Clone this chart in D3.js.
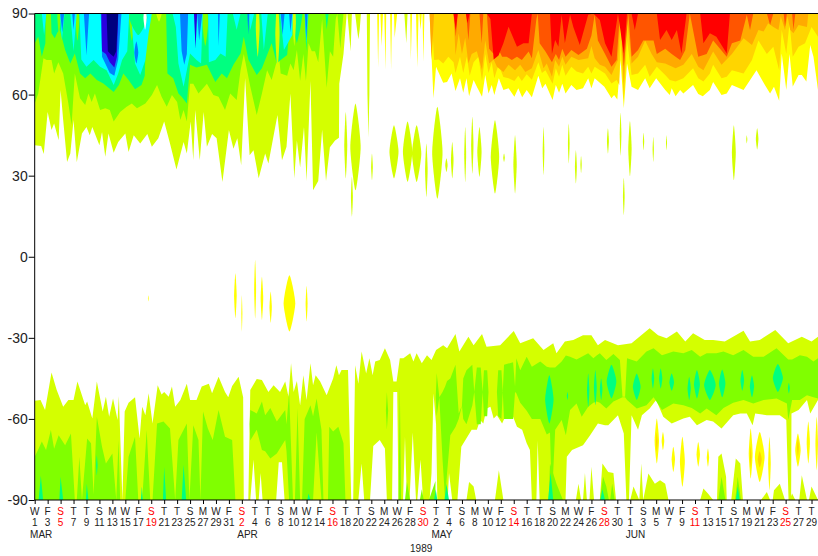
<!DOCTYPE html>
<html><head><meta charset="utf-8">
<script src="https://cdn.jsdelivr.net/npm/d3@7"></script>
<style>html,body{margin:0;padding:0;background:#fff;overflow:hidden}svg{display:block}text{font-family:"Liberation Sans",Arial,sans-serif;fill:#222}</style>
</head><body><svg id="c" width="818" height="556"></svg>
<script>
// All pairs are [day since 1 March 1989, latitude].
const northLime=[[0,41.3],[1,41],[1.4,38],[2,53.6],[2.6,46.9],[3,49.3],[3.7,43.1],[4,61.7],[4.4,50.6],[5,35.1],[5.5,38.2],[6,50.6],[6.5,35],[7.3,45.6],[8,48],[8.5,45],[8.9,48],[10,41.3],[10.4,46.2],[10.9,37],[11.4,45.6],[12.2,38.5],[12.9,42.5],[14,45.6],[14.5,38.8],[15.3,45],[16.3,41.9],[17.4,45.4],[18.1,40.7],[19.1,43.8],[20,50],[20.9,41.9],[21.9,32.3],[23,42.5],[23.5,38.2],[24.1,50],[24.5,35.7],[24.8,54.3],[25.5,35.7],[26.1,53.6],[26.6,40.7],[27.4,45.4],[28.1,43.8],[29,27.7],[30,46.9],[30.7,40],[31.3,43.8],[31.9,33.9],[32.5,66],[33.2,37.6],[33.8,39.4],[34.6,29],[35.6,38.2],[36.1,34.5],[37.5,52.4],[38.2,35.7],[38.9,40.7],[39.5,60.4],[40.1,29],[40.5,43],[41,33],[41.6,48],[42,28],[42.6,65],[43,24.6],[43.8,28],[44.4,47],[45,28],[45.6,40.5],[46.4,43],[47,44],[47.05,64],[47.7,75],[48.2,90],[48.3,90],[48.8,76],[49,90],[49.5,90],[49.8,84],[50,80.5],[50.2,84],[50.4,90],[51.3,90],[51.4,60],[51.55,44],[51.7,60],[51.8,90],[57.1,90],[57.4,79],[57.6,90],[121,90]];
const northGreen=[[0,56.7],[0.55,60.4],[1.35,73.4],[1.85,72.8],[2.6,72.8],[3,67.8],[3.65,72],[4.4,67.8],[5.2,56.7],[5.7,48.7],[6.2,67.8],[7,58.6],[7.8,56.1],[8.3,60.4],[8.8,57.3],[9.3,60.4],[10.1,54.3],[10.9,54.9],[11.6,54.3],[12.2,50],[13.2,53.6],[14.2,55.5],[15,56.7],[15.8,54.9],[17.1,56.7],[18.1,59.8],[18.9,63.5],[19.6,59.2],[20.4,55.5],[21.2,59.8],[22,57.3],[22.5,50.6],[23,54.3],[23.5,50],[24,64],[24.5,64],[25.3,60.4],[26.6,64],[27.6,59.8],[28.4,59.2],[29.4,54.3],[30.2,60.4],[31.2,58],[31.8,69],[32.3,75],[33.3,63],[34.3,52.4],[35.1,60.4],[35.9,69],[36.6,65.4],[37.7,75],[38,67.8],[39,67],[39.5,71.5],[40,69],[40.5,76.5],[41,65],[41.5,75],[41.9,65],[42.3,79],[42.8,76],[43.3,76],[43.8,72],[44.4,88],[45.1,62.5],[45.6,76],[46.1,74],[46.5,88],[46.75,90],[47.2,77],[47.7,90],[121,90]];
const northSpring=[[0,79],[0.55,81.4],[1.1,74],[1.65,79],[1.7,90],[2.5,90],[2.6,82.7],[3.1,80.8],[3.5,83],[3.9,83.9],[4.7,76.5],[5.5,71.5],[6.2,75.2],[7,67.8],[7.8,66],[8.6,67.8],[9.6,65.4],[10.6,64.1],[12.2,61],[13,63.5],[13.7,67.8],[14.5,65.4],[15.5,62],[16.5,63.5],[17,67],[17.3,90],[20.3,90],[20.5,67.8],[21.4,66],[22.2,60.4],[22.7,59.2],[23.5,56.7],[24,71],[25,70],[26.6,71],[27.9,64.7],[28.9,67.8],[29.7,66],[30.7,71],[31.8,75.2],[32.3,81.4],[33,73],[33.6,70.3],[34.3,67.2],[35.1,69.7],[35.9,74.6],[36.6,79],[37.4,71.5],[38,72.8],[39,74.6],[39.5,88.8],[40.5,79],[41,84],[41.4,90],[41.7,90],[41.95,76],[42.3,90],[44.9,90],[45.1,84],[45.4,90],[121,90]];
const northCyan=[[0,90],[1.1,90],[1.45,82],[1.8,90],[3.9,90],[4.2,80],[4.6,90],[5.5,90],[6,76],[6.5,90],[6.9,90],[7.2,73],[8,70.3],[9.1,72.8],[10.1,70.3],[11.1,69],[12.2,63.5],[12.9,67.8],[13.5,72.8],[14.3,76],[14.6,90],[14.9,90],[15.2,80],[15.5,71.5],[16.3,67.2],[17.1,72.8],[17.6,82.7],[18.1,90],[21.3,90],[21.8,85],[22.2,71.5],[23,62.9],[23.5,69],[24,75.2],[25,72.8],[25.7,71.5],[25.95,90],[26.8,90],[26.9,72],[27.9,72.8],[28.7,75.2],[29.5,74],[29.8,90],[30.6,90],[31.2,84],[31.8,90],[33.1,90],[33.3,83.9],[33.9,90],[35,90],[35.4,76.5],[36,90],[37.9,90],[38.5,76.5],[39.8,82],[39.9,90],[41.7,90],[41.95,79],[42.2,90],[121,90]];
const northAzure=[[0,90],[3.95,90],[4.25,83],[4.55,90],[5.8,90],[6,84],[6.2,90],[7.6,90],[8,74.5],[8.4,90],[10.2,90],[10.4,74],[10.9,71.5],[11.6,68],[12.3,67],[12.9,73],[13.4,90],[22.45,90],[22.7,76],[23.1,71],[23.5,75],[23.7,90],[25.1,90],[25.4,80],[25.9,90],[28.3,90],[28.4,78],[28.6,90],[32.85,90],[33,82],[33.15,90],[38,90],[38.3,82],[38.6,90],[39.3,90],[39.5,83],[39.8,90],[41.75,90],[41.95,80],[42.15,90],[121,90]];
const northIndigo=[[0,90],[10.3,90],[10.4,76],[11,75],[11.6,72],[12.3,70],[12.7,74],[12.9,90],[24.6,90],[24.85,77],[25.1,90],[121,90]];
const northNavy=[[0,90],[11.1,90],[11.3,76],[11.7,75],[12.2,74],[12.6,76],[12.9,90],[121,90]];
const northYellow=[[0,90],[52.9,90],[53.05,70],[53.2,90],[53.4,90],[53.6,78],[53.8,90],[54,90],[54.2,69],[54.3,90],[54.9,90],[55.05,69],[55.2,90],[55.5,90],[55.6,81],[56,90],[58,90],[58.1,73],[58.3,90],[58.9,90],[59.1,70],[59.3,90],[59.4,90],[59.6,84],[59.8,90],[59.9,90],[60.05,72],[60.2,90],[61,90],[61.6,58.6],[62,70.3],[63.1,64.4],[63.7,64.7],[64.4,67.8],[65,61.3],[65.7,66],[66.2,60.7],[66.7,66],[67.1,59.4],[67.8,65.4],[68.3,62.9],[69.1,59.2],[69.6,67.2],[70.1,60.4],[70.6,63.5],[71,59.8],[71.7,66],[72.4,61.7],[73.2,62.3],[74.1,59.2],[74.7,62.3],[75.3,59],[76,61.7],[76.8,59],[77.8,67],[78.4,62.3],[78.9,64],[80,58],[80.5,63.5],[81,60.7],[81.5,64],[82,60.4],[82.9,63.5],[83.7,61.7],[84.7,62.3],[85.5,66],[86,62.3],[86.5,66],[88,62.9],[89.1,58.6],[89.5,59.8],[90,58.2],[90.5,72.8],[91,54.9],[91.5,71.5],[92.2,62.9],[93.2,61.7],[94.3,66],[95,62.3],[96,66],[97.4,61.7],[98.1,59.8],[98.4,62.3],[99,59.4],[99.7,61.7],[100.2,60.4],[101.7,63.5],[102.5,60.2],[103.2,59.4],[104.3,61.7],[104.8,64.7],[106.1,59.8],[106.9,60.4],[107.7,63.5],[109.5,61.7],[111.5,69],[112.2,66],[112.8,63.5],[113.6,60.4],[114.2,62.9],[115,57.7],[115.4,75.2],[116.1,61.7],[116.6,75],[117.1,63],[118,67.2],[118.5,67.2],[119.2,64.8],[119.8,78.3],[120.3,74],[121,61.7]];
const northGold=[[0,90],[61.3,90],[61.7,72.8],[62.4,73],[63.1,71.5],[63.9,74],[64.7,72],[65,68],[65.7,74],[66.2,68],[66.75,74],[67.2,67],[67.8,72],[68.55,74],[69.1,65],[69.6,75],[70.1,68],[70.6,72],[71,66],[71.65,71],[72.4,66.5],[73.2,66],[74.1,65],[74.7,67],[75.25,65],[76,67.5],[76.8,65.5],[77.8,72],[78.35,68],[78.9,69],[80,64],[80.5,69.7],[81,66.6],[81.5,71],[82,67],[82.9,70.3],[83.7,68.5],[84.7,67.8],[85.5,70.3],[86,67.8],[86.5,70.3],[88.1,67.8],[89.1,64.1],[89.9,65.4],[90.3,63.5],[90.5,80],[91,58],[91.5,80],[92.2,67.2],[93.2,67.8],[94.3,71],[95,66.6],[96.1,70.3],[97.4,67.2],[98.1,65.4],[99,64.8],[100.2,66],[101.7,69.7],[102.5,66],[103.3,64.8],[104.3,67.8],[104.8,71],[106.1,66],[106.9,66.6],[107.7,69],[109.5,67.8],[110.8,72.8],[111.8,80],[113.1,75],[114.1,77.7],[115,69],[115.4,84],[116.1,75],[116.6,86.4],[117.1,74],[118,77.7],[119,79],[120,85],[121,81.4]];
const northOrange=[[0,90],[61,90],[61.3,72.8],[61.7,90],[64.7,90],[65,74.6],[65.5,82.6],[66,75],[66.5,81],[67,71.5],[67.5,75],[68.3,76],[69.1,69],[69.6,80],[70.2,71.5],[70.9,73],[71.4,70.3],[72.4,68.4],[73.2,71],[74.2,69],[75,71],[75.8,68.4],[76.8,69.7],[77.8,76.5],[78.6,69.7],[79.1,71.5],[79.9,66.6],[80.4,72.8],[81,70.3],[81.5,74],[82,71],[82.9,74],[84,72.8],[85.5,73.4],[86,78],[86.5,73.4],[87.3,71],[88.1,70.3],[89.1,67.2],[90.1,72.8],[90.5,88.8],[91,64],[91.5,88.8],[92.2,71.5],[93.2,74],[94.3,80],[95.3,75],[96.1,72],[97.4,71.5],[99,69.7],[100.2,71],[101.5,75],[102.5,70.3],[103.3,69],[104.8,75.9],[106.1,71],[107.7,75],[109.5,80.8],[110.8,78.3],[111.8,83.9],[112.6,83.3],[113.3,86.4],[114.1,85],[114.9,83.9],[115.25,89],[115.9,83.9],[116.3,89],[116.7,84],[117.2,82.7],[118,85.7],[119.3,85],[119.5,90],[121,90]];
const northDeep=[[0,90],[64.7,90],[65.05,81.4],[65.35,90],[66.65,90],[67,80],[67.3,90],[68.7,90],[69.05,79],[69.3,90],[69.85,90],[70.2,77],[70.9,75],[71.4,78],[72.2,74],[72.9,74],[73.7,72.8],[74.5,74],[75.25,72.8],[76.3,75.9],[76.8,73.4],[77.5,88],[77.7,90],[78,79],[78.9,75.9],[79.9,72],[80.5,75],[81,72.8],[81.5,77],[82,74],[82.9,76.5],[84,74.6],[85.3,77],[86,81.9],[86.5,89.5],[87,80],[88.1,75],[89.1,70.3],[89.9,72.8],[90.4,90],[91,70.3],[91.7,90],[92.2,74],[93.2,76.5],[94,80],[95.6,80],[96.1,75],[97.4,77],[98.4,75],[99.7,72.8],[100.5,76.5],[101.2,90],[102.5,74],[103.8,75],[104.8,80],[106.9,74],[107.7,79],[109,80],[110,89.5],[110.5,83.9],[111,90],[113.1,90],[113.6,85.7],[114.1,90],[115.7,90],[115.9,85],[116.2,90],[117,90],[117.2,84],[117.5,90],[121,90]];
const northRed=[[0,90],[64.7,90],[65.05,83.9],[65.35,90],[66.6,90],[66.85,86.4],[67.2,90],[69.85,90],[70.4,88],[70.9,73],[71.65,74.5],[72.4,79],[73.2,85.1],[74.5,77.7],[75.5,79],[76.3,79],[76.8,90],[79.6,90],[79.9,75],[80.4,80.2],[80.9,77.7],[81.4,89.5],[81.9,79],[82.7,89.5],[83.2,85],[84.2,78.3],[85.5,89.5],[86.3,90],[87.3,87.6],[88.1,79],[89.1,74],[90.1,90],[91,75.2],[91.5,90],[92.2,90],[92.7,83.9],[93.2,90],[96.1,90],[96.6,80.2],[97.6,83.9],[98.4,80.2],[99.2,83.9],[99.9,75.2],[100.7,90],[102.8,90],[103.3,79],[104.3,82.7],[105.3,81.4],[106.9,75.2],[107.4,90],[121,90]];

const southLimeTop=[[0,-53.3],[0.9,-53],[1.6,-56.7],[2.6,-42.8],[3.4,-49.3],[4.4,-55.5],[5.2,-53],[6,-53],[6.6,-46.2],[7.8,-54.9],[8.1,-53.6],[8.9,-59.8],[9.6,-46.2],[10.5,-57.3],[11,-51.8],[11.5,-59.2],[12.1,-52.4],[12.8,-60.4],[13,-51.5],[13.55,-90],[13.9,-57.3],[14.5,-54],[15.5,-52],[16.2,-67.2],[16.6,-55.5],[17.1,-58.6],[17.6,-50.5],[18.2,-61.7],[19,-47.5],[19.6,-51],[20,-50],[20.7,-51.8],[21.2,-48],[21.7,-55.5],[22.5,-53],[23.5,-47],[24,-53],[25,-53],[25.8,-48],[26.9,-47],[27.4,-50.5],[28.4,-44.4],[29.4,-50],[29.9,-52],[30.5,-47.8],[31.5,-44.4],[32.2,-52],[32.3,-90],[33,-90],[33.3,-49.3],[34.3,-45.2],[35.1,-45.6],[36.1,-50],[36.9,-47.5],[37.9,-50],[38.7,-46.2],[39.2,-51.8],[39.6,-39.4],[40,-50],[40.5,-46],[41,-55],[41.5,-43.8],[42,-53],[42.6,-39.4],[43,-47.5],[43.4,-43.8],[44.1,-46.2],[45.1,-51.2],[46.1,-45],[46.6,-40.1],[47,-43.8],[47.4,-41.9],[48.4,-41.9],[48.9,-90],[49.2,-90],[49.5,-40.1],[50,-47],[50.5,-35.1],[51.2,-43.2],[51.7,-37.6],[52.2,-43.8],[52.6,-38.8],[53.3,-38.2],[54.1,-33.9],[54.9,-38.2],[55.4,-46.2],[55.9,-46.2],[56.4,-37.6],[56.95,-37.6],[58,-35.7],[58.5,-38.8],[59,-35.7],[59.8,-39.4],[60.6,-36.4],[61.3,-38.2],[62,-34.5],[63.1,-32.7],[63.7,-33.9],[65,-28.6],[65.6,-35.1],[67,-29.6],[67.8,-32.7],[69.1,-28.6],[69.8,-33.3],[71.9,-32.7],[74,-27.5],[75,-32],[77,-30.2],[78.6,-34.5],[80.1,-32],[80.6,-35.7],[81.9,-31.4],[83.2,-30.8],[84.7,-29],[86,-29],[87,-32.7],[88.1,-30.8],[90.1,-32.7],[92.2,-32],[95,-26.5],[96.3,-29],[97.6,-30.2],[99.2,-27.7],[100.5,-31.4],[101.7,-28.3],[103.5,-30.8],[104.8,-30.8],[106.6,-31.4],[109.5,-27.4],[110.5,-31.4],[112,-30.8],[114.4,-27.1],[116.4,-32],[118.5,-29.6],[120,-31.4],[121,-29.6]];
const southHole=[[0,-90],[33.3,-90],[33.8,-75],[34.2,-90],[34.6,-90],[34.9,-80],[35.2,-90],[37.3,-90],[37.7,-76],[38.2,-76],[38.6,-90],[50,-90],[50.5,-76.5],[50.9,-90],[51.8,-90],[52.3,-70],[53.3,-67.8],[54.1,-70.9],[54.4,-90],[55.2,-90],[55.4,-50],[56,-50],[56.2,-90],[56.9,-90],[57.2,-66.6],[57.5,-90],[57.9,-90],[58.4,-65],[58.9,-90],[59.1,-90],[59.6,-75],[60,-90],[61,-90],[61.3,-80],[61.6,-50.5],[62,-62],[62.2,-90],[63.8,-90],[64,-80],[64.5,-90],[65.3,-90],[65.9,-70.3],[67.5,-64],[68.3,-64],[68.8,-60.4],[69.3,-61.7],[69.8,-56.1],[70.4,-55.5],[70.9,-59.8],[71.4,-58.6],[72.2,-61.7],[72.9,-58],[73.7,-58],[74.5,-62.9],[75.3,-64],[76,-69],[76.5,-71.5],[76.8,-90],[77.5,-90],[77.7,-68],[78,-90],[82,-90],[82.2,-74],[83,-71.5],[84.7,-69.7],[85.8,-66],[87,-61.7],[88.1,-62.3],[88.6,-62.3],[90.1,-58.6],[91,-65.4],[91.4,-90],[91.8,-90],[92.2,-58.6],[93.2,-64],[93.8,-58.6],[95,-56.1],[96,-53],[97.1,-59.2],[98.4,-61.7],[100.2,-59.8],[101.2,-59.2],[102.3,-62.3],[103.8,-60.4],[104.8,-61],[106.1,-63.5],[107.9,-58.6],[109,-58],[110,-58],[110.9,-62.3],[111.3,-58],[113.1,-58.6],[115.1,-58.6],[116.1,-60.4],[116.45,-90],[116.85,-90],[116.9,-58],[118,-56.7],[119.3,-53],[119.8,-58],[121,-53]];
const southLimeLobes=[[0,-90],[66.7,-90],[67.1,-83.3],[67.8,-85],[68.2,-90],[71.1,-90],[71.7,-79],[72.4,-90],[83.6,-90],[84,-84],[84.4,-90],[84.7,-90],[85,-80],[85.3,-90],[85.7,-90],[86,-77.7],[86.4,-90],[87.3,-90],[87.7,-76.5],[88.6,-79.6],[89.4,-80],[89.8,-90],[92,-90],[92.5,-85],[93.4,-90],[93.7,-76.5],[94,-90],[94.8,-80.2],[95.8,-84],[96.6,-82.7],[97.4,-84],[97.9,-90],[102.8,-90],[103.3,-85.7],[104,-87.6],[104.8,-90],[105.4,-90],[105.6,-74],[106.1,-72.8],[106.8,-81.4],[106.9,-90],[107.6,-90],[108.3,-74.6],[109,-76.5],[109.4,-90],[112.2,-90],[113.1,-87],[113.6,-90],[114,-90],[114.2,-86.4],[115.1,-84],[115.9,-90],[116.6,-90],[117,-87.6],[117.5,-90],[118.1,-90],[118.5,-80.8],[119.3,-90],[119.6,-90],[120,-85],[121,-90]];
// [day, upper latitude, lower latitude]
const southGreen=[[0,-74,-90],[0.6,-71,-90],[1.1,-68.4,-90],[1.75,-71.5,-90],[2.5,-64.1,-90],[3,-71,-90],[3.7,-66,-90],[4.7,-69.7,-90],[5.6,-65.4,-90],[6.2,-90,-90],[6.5,-90,-90],[6.9,-74,-90],[7.3,-90,-90],[8.1,-67.2,-90],[8.7,-69,-90],[9.1,-88,-90],[9.6,-59.2,-90],[10.4,-70.3,-90],[11,-76.5,-90],[12,-72.8,-90],[12.6,-90,-90],[12.95,-67.8,-90],[13.2,-90,-90],[14,-90,-90],[14.5,-74,-90],[15.5,-66.6,-90],[16,-90,-90],[16.6,-90,-90],[17.3,-64.1,-90],[17.85,-90,-90],[18.2,-90,-90],[18.9,-61.7,-90],[19.9,-61,-90],[20.9,-63.5,-90],[21.7,-90,-90],[22.2,-67.8,-90],[23.5,-61.7,-90],[23.9,-90,-90],[24.5,-62.3,-90],[25.3,-67.8,-90],[25.6,-90,-90],[26,-57.3,-90],[26.75,-63.5,-90],[27.5,-67.8,-90],[28.4,-56.7,-90],[29.4,-66.6,-90],[30.5,-67.8,-90],[31,-90,-90],[33.2,-62,-62],[33.3,-56.7,-68],[34.3,-58,-64],[35.1,-53.6,-71.5],[35.6,-58.6,-72],[36.4,-56,-74.6],[37.4,-61,-72.8],[38.7,-56.7,-67.8],[38.9,-62,-72],[39.3,-50,-90],[39.9,-90,-90],[40.2,-90,-90],[40.6,-56,-90],[41,-90,-90],[41.3,-90,-90],[41.7,-60,-90],[42.6,-54.9,-90],[43,-59,-90],[43.55,-52.4,-65],[44.3,-64,-90],[44.6,-90,-90],[45.3,-90,-90],[45.5,-62.9,-90],[46.1,-64.7,-90],[46.9,-62.9,-90],[47.7,-69,-90],[48,-90,-90],[54.2,-90,-90],[54.25,-57,-57],[54.4,-50,-64],[54.6,-57,-57],[54.65,-90,-90],[56.2,-90,-90],[56.4,-48,-90],[56.6,-90,-90],[57.2,-90,-90],[57.5,-83.3,-90],[58,-90,-90],[59.5,-90,-90],[59.8,-86,-90],[60.1,-90,-90],[60.9,-90,-90],[61.9,-83,-90],[61.95,-52,-52],[62.1,-43,-59],[62.5,-52,-52],[63,-50,-75],[63.4,-48,-90],[63.7,-46,-80],[64.2,-45,-66],[65,-40,-63],[65.5,-58,-60],[66,-55,-55],[66.2,-45,-60],[66.7,-42,-62],[67.6,-40,-55],[67.9,-50,-50],[68.3,-41,-62],[68.9,-41,-62],[69.2,-50,-50],[69.4,-42,-59],[69.9,-42,-59],[70.1,-50,-50],[71.4,-50,-50],[71.6,-42,-59],[72.1,-42,-60],[72.3,-50,-50],[72.5,-40,-60],[73.9,-39,-60],[74.2,-48,-50],[74.4,-37.6,-50.5],[75,-42,-54],[76,-37,-57],[76.8,-40.7,-60],[78.1,-38.8,-60],[79.1,-40.7,-65.8],[79.6,-41,-65],[79.9,-41,-90],[80.4,-41,-64],[81.4,-38.8,-60.4],[82.05,-36.5,-66],[82.7,-37,-56.7],[83.7,-38,-54.3],[84.5,-37,-59.2],[85.5,-35.7,-55.5],[86.3,-37.6,-54],[86.8,-36.5,-53.6],[87.3,-35.7,-54],[88.3,-38.2,-56.1],[89.4,-36,-53.6],[90.4,-38.2,-52.4],[90.8,-51.8,-52],[91.2,-51.8,-52],[91.5,-37.6,-53],[93,-38.8,-56.1],[94.5,-35.1,-54.9],[95.6,-33.9,-52],[96.9,-36.4,-56.7],[98.65,-35.1,-54.3],[100.2,-35.7,-54.9],[101.5,-34.5,-56],[102.8,-37,-58],[103.8,-35.7,-56.1],[105.3,-35.7,-58.6],[106.4,-35.1,-56],[107.9,-36.4,-54],[109.5,-34.5,-53],[111,-37,-54.3],[112.6,-37,-53],[114.6,-33.9,-52.4],[116.2,-37.6,-54.3],[116.4,-38,-60.4],[117,-38,-53],[118.2,-36.4,-53],[119.3,-37,-51.2],[120.3,-38.8,-52],[121,-37.6,-52.4]];
const southGreenLobes=[[0,-90],[79.4,-90],[79.6,-76.5],[80.6,-84],[81.6,-90],[87.3,-90],[87.8,-81.4],[88.3,-85],[88.7,-90],[88.9,-90],[89.2,-84],[89.6,-90],[105.6,-90],[106.1,-81.4],[106.7,-90],[108.2,-90],[108.6,-81.4],[109.1,-90],[121,-90]];
const southSpringLobes=[[0,-90],[0.6,-90],[0.95,-81],[1.3,-90],[3.8,-90],[4,-81.4],[4.4,-90],[7.9,-90],[8.05,-84],[8.3,-90],[16.4,-90],[16.55,-85],[16.7,-90],[19.8,-90],[20,-77.7],[20.3,-90],[22.7,-90],[23,-77],[23.4,-90],[42.1,-90],[42.3,-87.6],[42.6,-90],[61.7,-90],[61.95,-86],[62.2,-90],[63.3,-90],[63.6,-84],[64,-90],[79.3,-90],[79.7,-80],[80.1,-90],[87.4,-90],[87.7,-86],[88.1,-90],[108.3,-90],[108.6,-85],[108.9,-90],[121,-90]];

// Isolated patches: [centre day, half width in days, upper latitude, lower latitude]
const limePatches=[[48.05,.23,53.6,29],[49.55,.8,56.7,24.6],[49,.15,29.6,14.8],[52.1,.13,38.2,28.3],[55.5,.7,48.7,29],[57.6,.72,50,27.7],[59,.72,48.7,27.7],[60.5,.2,41.9,22.2],[62.2,.8,55.5,21.5],[63.6,.18,36.4,31.4],[64.5,.2,42.5,29],[66.5,.15,48,27.7],[67.6,.18,51.8,30.8],[68.7,.33,48,29.6],[71.1,.65,50.5,23.4],[72.5,.12,38.2,35.1],[74.2,.26,45,23.4],[78.6,.13,48,30.2],[82.5,.13,49.3,34.5],[83.6,.15,39.4,27.1],[84.4,.1,37.3,31],[88.55,.15,47.5,38.2],[90.5,.13,53.3,37.4],[91.95,.26,50.2,29.8],[91,.13,29.2,15.4],[94.05,.1,45.9,39.4],[95.55,.1,44.4,35.1],[97.6,.08,45,39.4],[108,.3,48.7,28.3],[110,.08,45,41.9],[111.6,.2,47.5,39.7]];
const limeTopStripes=[[19.2,.5,95,87],[34.45,.3,96,74],[37.5,.33,96,69],[40.1,.25,96,78]];
const greenTopStripes=[[2.1,.4,96,78],[3.75,.25,96,82],[6.6,.3,96,80],[15,.4,96,80],[26.35,.45,96,78]];
const yellowPatches=[[17.55,.06,-14.2,-16.6],[31,.2,-6.1,-22.8],[32,.08,-14.2,-27.7],[34.05,.15,-1.2,-22.8],[35.1,.2,-7.4,-23.4],[36.45,.18,-12.9,-24.4],[39.35,.9,-6.8,-27.7],[42,.15,-10.8,-24],[96.1,.34,-59.8,-76.5],[97.05,.2,-64.8,-71.5],[98.65,.26,-70.3,-79.6],[100.05,.38,-66.6,-85.1],[102.5,.26,-68.5,-77.7],[104,.18,-70.9,-77.7],[110.6,.3,-63.5,-82],[112,.75,-64.8,-83.3],[113.5,.2,-66.6,-86.4],[117.9,.42,-65.4,-77.7],[119.5,.25,-61,-76.5],[120.8,.2,-59.2,-79]];
const goldPatches=[[96.1,.12,-65,-72],[110.6,.1,-70,-78],[112,.3,-72,-78],[117.9,.14,-67,-74]];
const springCap=[[16,1.4,95,82]];
const springPatches=[[85.5,.18,-43.2,-55.7],[86.6,.22,-41.9,-54.9],[87.5,.2,-45,-53],[89.1,.75,-40,-52.4],[93,.6,-43.2,-53],[95.5,.2,-41.3,-48.7],[96.7,.25,-41.3,-48.7],[98.4,.36,-43.2,-49.6],[101.1,.25,-44.4,-53],[102.3,.46,-41.9,-52.4],[104.3,.9,-41.9,-53],[106.2,.5,-41.7,-52],[109.3,.28,-41.9,-49.6],[110.8,.33,-43.8,-52],[114.8,.78,-39.7,-50],[116.5,.15,-46.6,-50.6],[82.3,.1,-50,-53],[79.5,.65,-43.8,-61.7],[9.6,.1,-73.4,-80.8]];
const azurePatches=[[15.7,.3,79.6,71.5]];
const whitePatches=[[17.05,.25,93,84],[80.9,.2,-65.5,-75]];

const dayTicks=[0,2,4,6,8,10,12,14,16,18,20,22,24,26,28,30,32,34,36,38,40,42,44,46,48,50,52,54,56,58,60,62,64,66,68,70,72,74,76,78,80,82,84,86,88,90,92,94,96,98,100,102,104,106,108,110,112,114,116,118,120];
const weekLetters=["W","F","S","T","T","S","M","W","F","S","T","T","S","M","W","F","S","T","T","S","M","W","F","S","T","T","S","M","W","F","S","T","T","S","M","W","F","S","T","T","S","M","W","F","S","T","T","S","M","W","F","S","T","T","S","M","W","F","S","T","T"];
const dayNumbers=[1,3,5,7,9,11,13,15,17,19,21,23,25,27,29,31,2,4,6,8,10,12,14,16,18,20,22,24,26,28,30,2,4,6,8,10,12,14,16,18,20,22,24,26,28,30,1,3,5,7,9,11,13,15,17,19,21,23,25,27,29];
const sundayDays=[4,18,32,46,60,74,88,102,116];
const monthNames=["MAR","APR","MAY","JUN"];
const monthDays=[0,32,62,92];
const latTicks=[-90,-60,-30,0,30,60,90];

const x=d3.scaleLinear([0,121],[34.7,818]);
const y=d3.scaleLinear([-90,90],[500,13.5]);
const svg=d3.select("#c");
svg.append("defs").append("clipPath").attr("id","p").append("rect")
  .attr("x",x(0)).attr("y",y(90)).attr("width",x(121)-x(0)).attr("height",y(-90)-y(90));
const g=svg.append("g").attr("clip-path","url(#p)");
const sorted=a=>a.slice().sort((p,q)=>p[0]-q[0]);
const down=d3.area().x(d=>x(d[0])).y0(d=>y(d[1])).y1(y(90));
const up=d3.area().x(d=>x(d[0])).y0(d=>y(d[1])).y1(y(-90));
const between=d3.area().x(d=>x(d[0])).y0(d=>y(d[1])).y1(d=>y(d[2]));
const closed=d3.line().curve(d3.curveCardinalClosed.tension(0.35));
function edge(gen,data,color){g.append("path").attr("d",gen(sorted(data))).attr("fill",color);}
function patches(list,color){
  g.selectAll(null).data(list).join("path").attr("fill",color).attr("d",d=>{
    const mid=(d[2]+d[3])/2;
    return closed([[x(d[0]),y(d[2])],[x(d[0]+d[1]),y(mid)],[x(d[0]),y(d[3])],[x(d[0]-d[1]),y(mid)]]);
  });
}
const LIME="#d4ff00",GREEN="#80ff00",SPRING="#00ff80",CYAN="#00ffff",AZURE="#0080ff",INDIGO="#2a00e0",NAVY="#000080",
      YELLOW="#ffff00",GOLD="#ffd500",ORANGE="#ffaa00",DEEP="#ff5500",RED="#ff0000";
edge(down,northLime,LIME);
edge(down,northGreen,GREEN);
edge(down,northSpring,SPRING);
patches(greenTopStripes,GREEN);
edge(down,northCyan,CYAN);
patches(springCap,SPRING);
patches(azurePatches,AZURE);
edge(down,northAzure,AZURE);
edge(down,northIndigo,INDIGO);
edge(down,northNavy,NAVY);
patches(limeTopStripes,LIME);
patches(whitePatches,"#fff");
edge(down,northYellow,YELLOW);
edge(down,northGold,GOLD);
edge(down,northOrange,ORANGE);
edge(down,northDeep,DEEP);
edge(down,northRed,RED);
patches(limePatches,LIME);
edge(up,southLimeTop,LIME);
edge(up,southHole,"#fff");
edge(up,southLimeLobes,LIME);
patches(yellowPatches,YELLOW);
patches(goldPatches,GOLD);
edge(between,southGreen,GREEN);
edge(up,southGreenLobes,GREEN);
edge(up,southSpringLobes,SPRING);
patches(springPatches,SPRING);

const frame=svg.append("g").attr("fill","none").attr("stroke","#000");
frame.append("line").attr("x1",x(0)).attr("x2",x(121)).attr("y1",y(90)).attr("y2",y(90));
frame.append("line").attr("x1",x(0)).attr("x2",x(121)).attr("y1",y(-90)).attr("y2",y(-90));

const left=svg.append("g").attr("transform",`translate(${x(0)},0)`)
  .call(d3.axisLeft(y).tickValues(latTicks).tickSize(6).tickPadding(1).tickFormat(d=>String(d)));
left.selectAll("text").style("font-size","14px").attr("fill","#222");
left.selectAll("line,path").attr("stroke","#000");
left.select(".domain").attr("d",`M0,${y(90)}V${y(-90)}`);

const bottom=svg.append("g").attr("transform",`translate(0,${y(-90)})`)
  .call(d3.axisBottom(x).tickValues(dayTicks).tickSize(4).tickFormat(""));
bottom.select(".domain").remove();
bottom.selectAll("line").attr("stroke","#000");
const lab=svg.append("g").style("font-size","10px").attr("text-anchor","middle");
const red=d=>sundayDays.includes(d);
lab.selectAll(null).data(dayTicks).join("text").attr("x",d=>x(d)).attr("y",514.5)
  .style("fill",d=>red(d)?"#f00":"#222").text((d,i)=>weekLetters[i]);
lab.selectAll(null).data(dayTicks).join("text").attr("x",d=>x(d)).attr("y",526)
  .style("fill",d=>red(d)?"#f00":"#222").text((d,i)=>dayNumbers[i]);
svg.append("g").style("font-size","10px").selectAll(null).data(monthDays).join("text")
  .attr("x",d=>x(d)-4.6).attr("y",538).text((d,i)=>monthNames[i]);
svg.append("text").attr("x",x(59.7)).attr("y",551.5).attr("text-anchor","middle").style("font-size","10px").text("1989");
</script></body></html>
